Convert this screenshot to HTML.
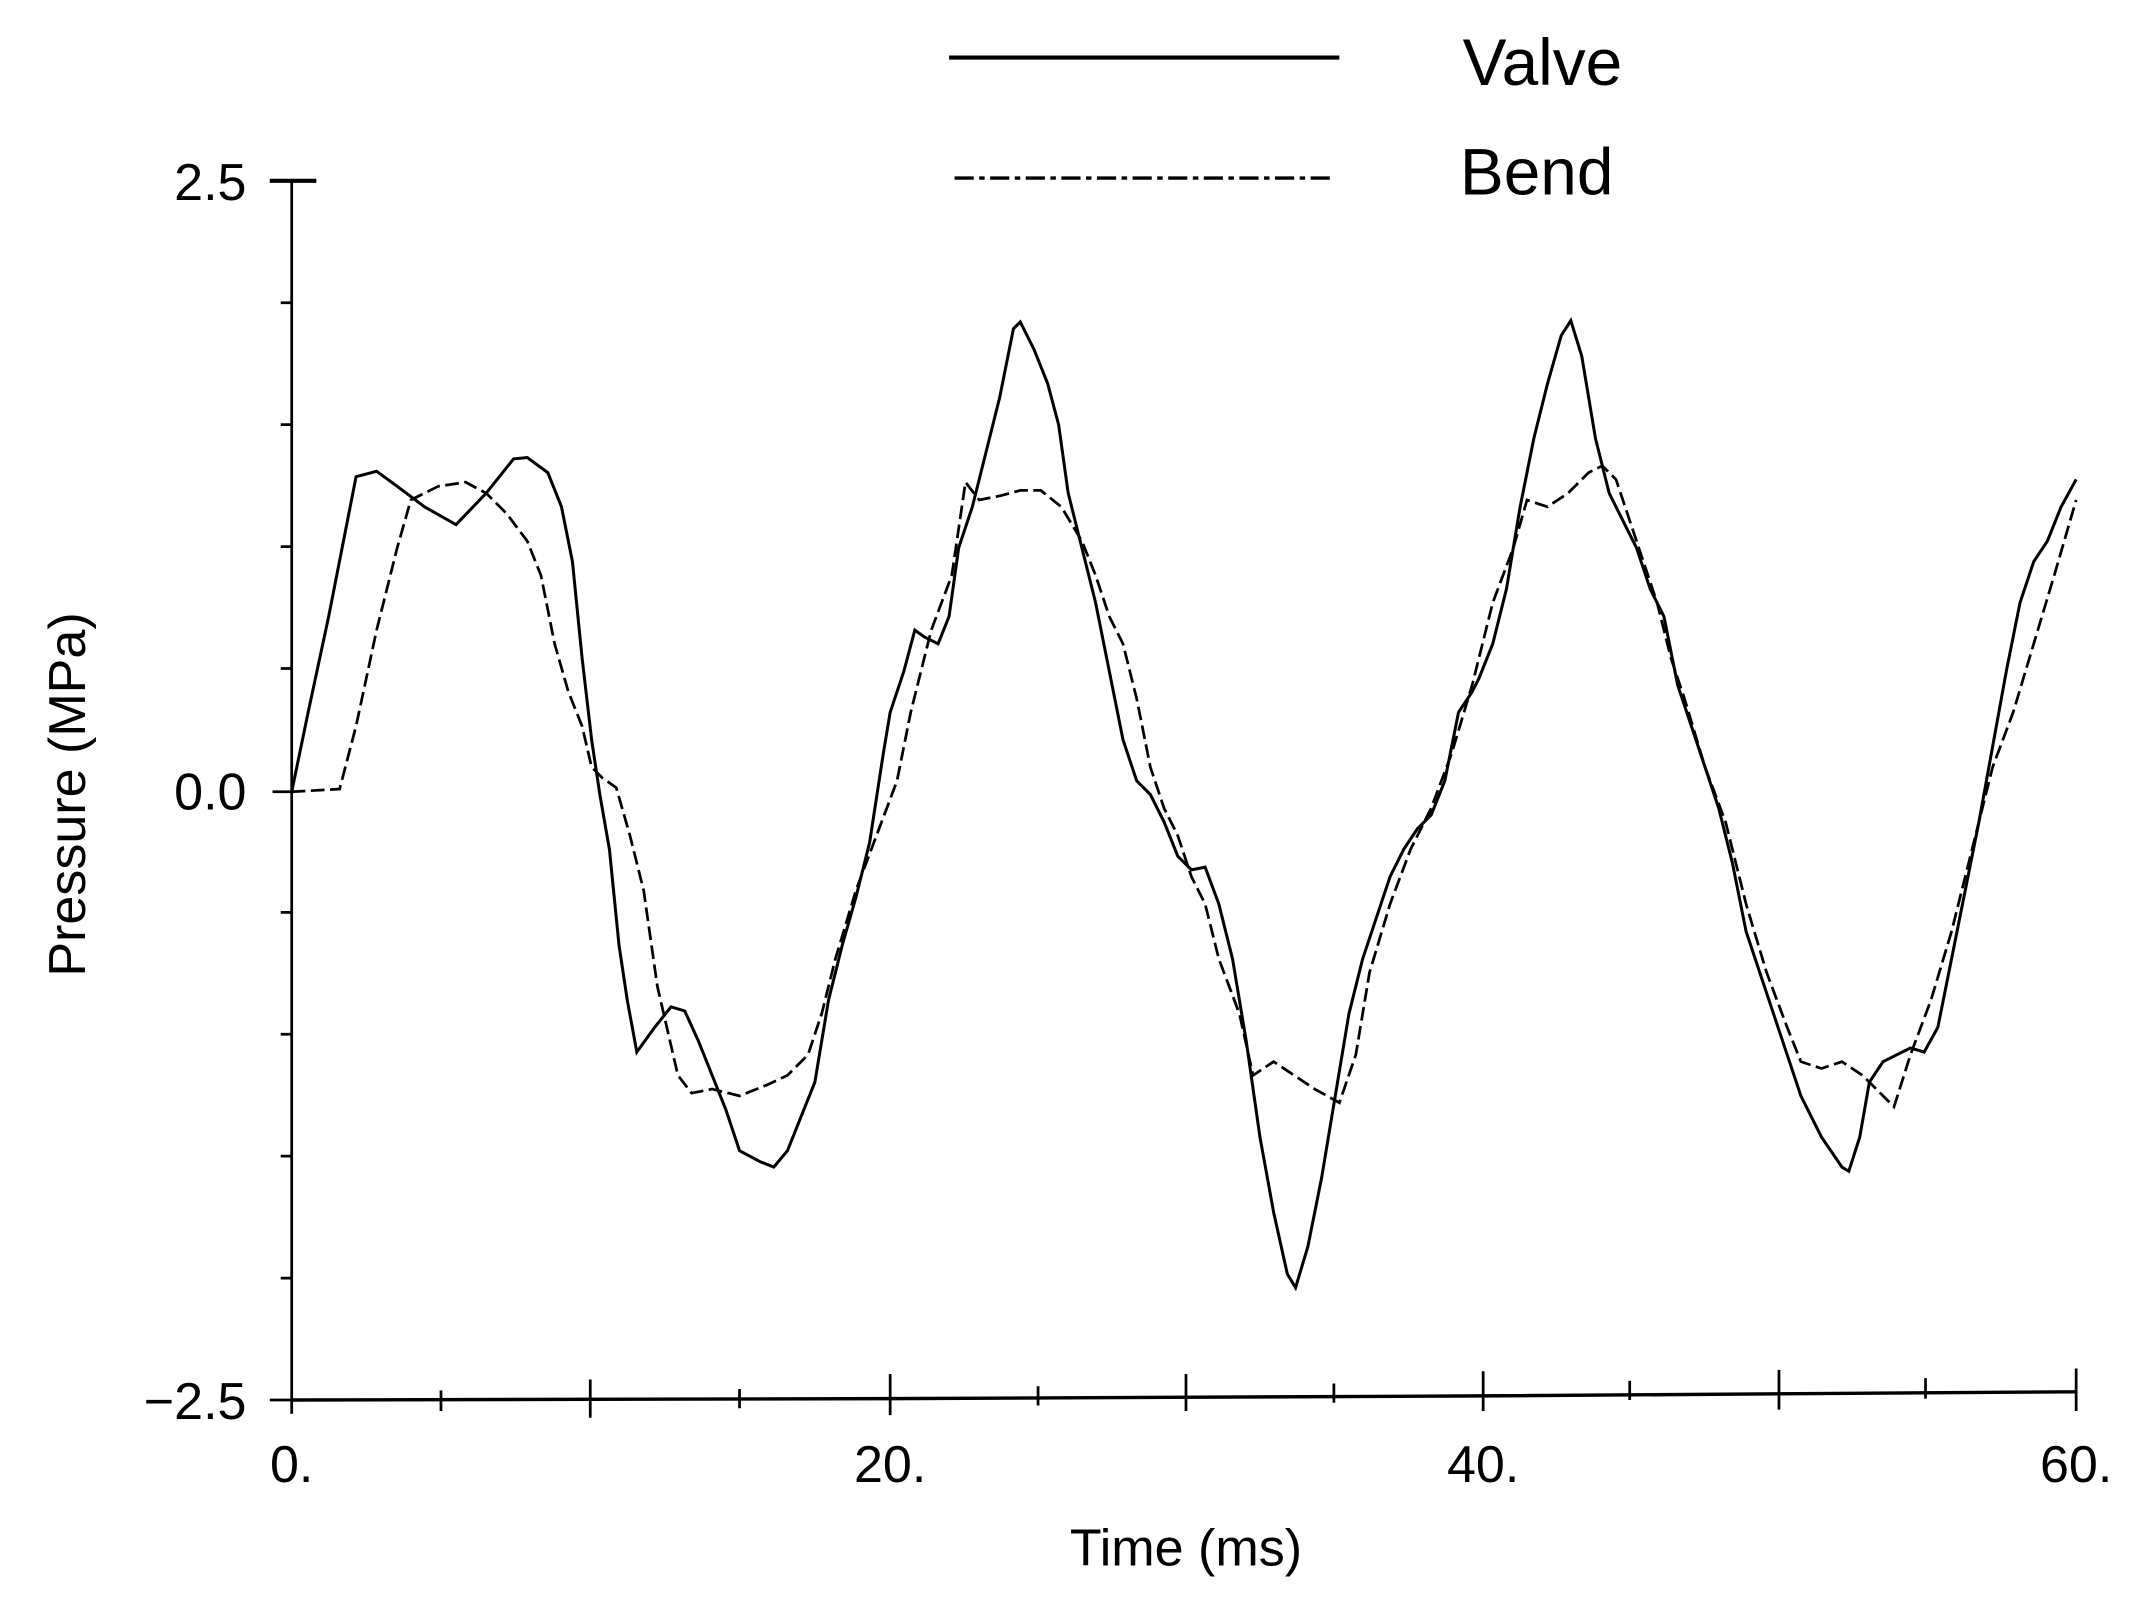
<!DOCTYPE html>
<html><head><meta charset="utf-8"><style>html,body{margin:0;padding:0;background:#fff}svg{display:block}</style></head>
<body>
<svg width="2146" height="1600" viewBox="0 0 1567 1168" preserveAspectRatio="none" xmlns="http://www.w3.org/2000/svg">
<g stroke="#000" fill="none" stroke-width="2">
<line x1="213" y1="132" x2="213" y2="1032"/>
<line x1="197" y1="132" x2="231" y2="132" stroke-width="3"/>
<path d="M205 221H213M205 310H213M205 399H213M205 488H213M199 578H213M205 666H213M205 755H213M205 844H213M205 933H213M197 1022H213"/>
<path d="M213 1022 L650 1021 L1083 1019 L1516 1016" stroke-width="2.5"/>
<path d="M322 1015V1030M431 1007V1035M540 1014V1028M650 1003V1033M758 1012V1026M866 1003V1030M974 1010V1024M1083 1001V1030M1190 1008V1022M1299 1000V1029M1406 1006V1021M1516 999V1030"/>
<line x1="693" y1="42" x2="978" y2="42" stroke-width="3"/>
<line x1="697" y1="130" x2="975" y2="130" stroke-width="2.5" stroke-dasharray="14,4,4,4"/>
<polyline stroke-width="2.2" points="213,578 225,520 240,450 260,348 275,344 290,355 310,370 333,383 355,360 375,335 385,334 400,345 410,370 418,410 425,480 432,540 438,580 445,620 452,690 458,730 465,768 478,750 490,735 500,738 510,760 520,785 530,810 540,840 555,848 565,852 575,840 585,815 595,790 605,730 615,690 625,655 635,615 645,550 650,520 660,490 668,460 675,465 685,470 693,450 700,400 710,370 720,330 730,290 740,240 745,235 755,255 765,280 773,310 780,360 790,400 800,440 810,490 820,540 830,570 840,580 850,600 860,625 870,635 880,633 890,660 900,700 910,760 920,830 930,885 940,930 946,940 955,910 965,860 975,800 985,740 995,700 1005,670 1015,640 1025,620 1035,605 1045,595 1055,570 1065,520 1075,505 1080,495 1090,470 1100,430 1110,370 1120,320 1130,280 1140,245 1147,234 1155,260 1165,320 1175,360 1185,380 1195,400 1205,430 1215,450 1225,500 1235,530 1245,560 1255,590 1265,630 1275,680 1285,710 1295,740 1305,770 1315,800 1330,830 1345,852 1350,855 1358,830 1365,790 1375,775 1385,770 1395,765 1405,768 1415,750 1425,700 1435,650 1445,600 1455,545 1465,490 1475,440 1485,410 1495,395 1505,370 1516,350"/>
<polyline stroke-width="2" stroke-dasharray="10,4" points="213,578 248,576 260,530 275,460 290,400 300,365 320,355 340,352 355,360 370,375 385,395 395,420 405,470 415,505 425,530 432,560 440,568 450,575 460,610 470,650 480,720 495,785 505,798 520,795 540,800 560,792 575,785 590,770 600,740 610,700 625,650 640,610 655,570 665,520 680,460 695,420 705,352 715,365 730,362 745,358 760,358 775,370 790,395 800,420 810,450 820,470 830,510 840,560 850,590 860,610 870,640 880,660 890,700 905,740 915,785 930,775 945,785 960,795 978,805 990,770 1000,710 1015,660 1030,620 1045,590 1060,550 1075,500 1090,440 1105,400 1115,365 1130,370 1145,360 1160,345 1170,340 1180,350 1190,380 1200,410 1210,440 1220,480 1230,510 1245,560 1260,600 1275,660 1290,710 1305,750 1315,775 1330,780 1345,775 1360,785 1375,800 1383,808 1395,770 1410,730 1425,680 1440,620 1455,560 1470,520 1485,470 1500,420 1516,365"/>
</g>
<g font-family="Liberation Sans, sans-serif" fill="#000" font-size="38">
<text x="180" y="146" text-anchor="end">2.5</text>
<text x="180" y="591" text-anchor="end">0.0</text>
<text x="180" y="1036" text-anchor="end">−2.5</text>
<text x="213" y="1082" text-anchor="middle">0.</text>
<text x="650" y="1082" text-anchor="middle">20.</text>
<text x="1083" y="1082" text-anchor="middle">40.</text>
<text x="1516" y="1082" text-anchor="middle">60.</text>
<text x="866" y="1143" text-anchor="middle">Time  (ms)</text>
<text transform="translate(62,580) rotate(-90)" text-anchor="middle">Pressure  (MPa)</text>
<text x="1068" y="62" font-size="48">Valve</text>
<text x="1066" y="142" font-size="48">Bend</text>
</g>
</svg>
</body></html>
